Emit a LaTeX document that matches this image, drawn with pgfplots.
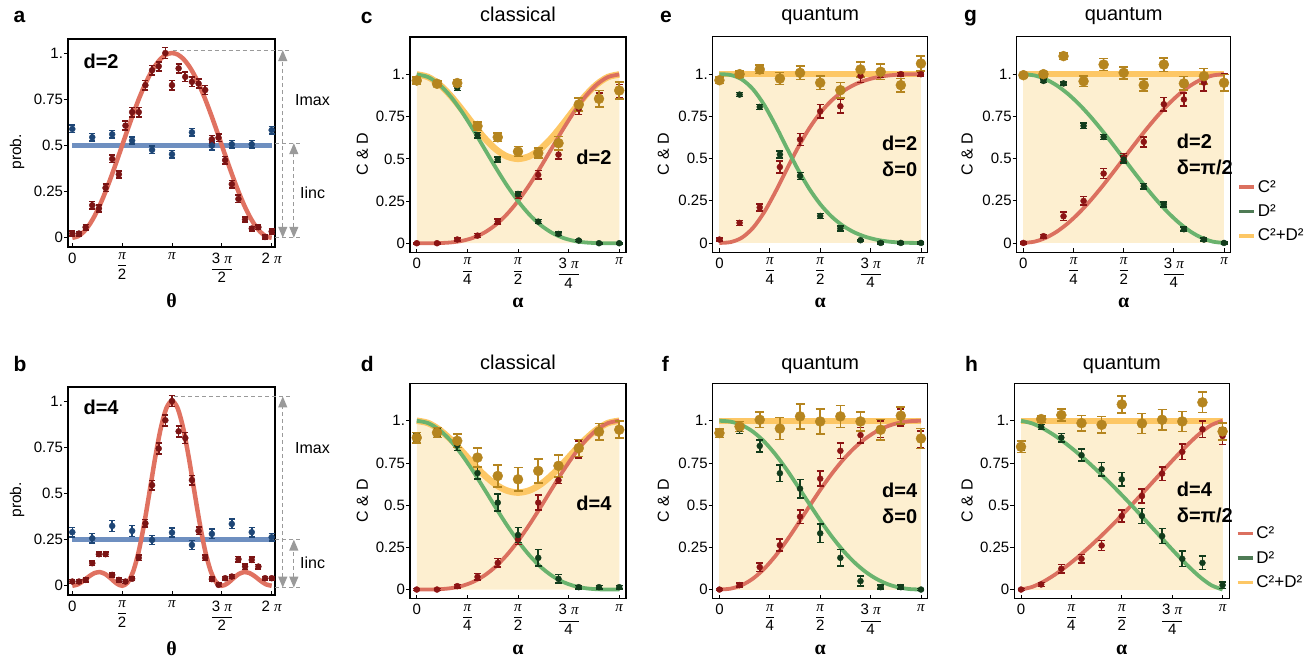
\documentclass[border=0pt]{standalone}
\usepackage{fontspec}
\setmainfont{Liberation Sans}
\newfontfamily\serif{Liberation Serif}
\usepackage{pgfplots}
\pgfplotsset{compat=1.18}
\usetikzlibrary{arrows.meta}

\definecolor{cream}{HTML}{FDEFD0}
\definecolor{sumc}{HTML}{FDC765}
\definecolor{cline}{HTML}{DB705F}
\definecolor{dline}{HTML}{6AB36E}
\definecolor{cdat}{HTML}{8C1414}
\definecolor{ddat}{HTML}{123C1C}
\definecolor{gdat}{HTML}{B5851F}
\definecolor{aline}{HTML}{E07261}
\definecolor{adat}{HTML}{7B1414}
\definecolor{bline}{HTML}{6E8FC0}
\definecolor{bdat}{HTML}{1E4676}
\definecolor{dleg}{HTML}{4F7B55}
\definecolor{agray}{HTML}{9A9A9A}

\newcommand{\PI}{{\serif\itshape π}}
\newcommand{\fr}[2]{$\displaystyle{\mbox{#1}\above 0.9pt\mbox{#2}}$}
\newcommand{\ftick}{\fontsize{15}{17}\selectfont}
\newcommand{\ftitle}{\fontsize{20}{24}\selectfont}
\newcommand{\fann}{\bfseries\fontsize{20}{26}\selectfont}
\newcommand{\flet}{\bfseries\fontsize{21}{24}\selectfont}

\tikzset{
 arr/.style={agray, line width=1.2pt, dash pattern=on 4pt off 3pt, {Triangle[width=9pt,length=11pt]}-{Triangle[width=9pt,length=11pt]}},
 dsh/.style={agray, line width=1.1pt, dash pattern=on 4pt off 3pt},
}

\pgfplotsset{
 base/.style={scale only axis, anchor=north west, clip=false,
   axis line style={line width=1.1pt, black},
   tick style={line width=0.8pt, black},
   xtick align=inside, ytick align=outside, major tick length=4pt, tick pos=left,
   tick label style={font=\ftick},
   yticklabel style={xshift=2.5pt}, xticklabel style={yshift=-2pt},
   ytick={0,0.25,0.5,0.75,1}, yticklabels={0,0.25,0.5,0.75,1.},
   every axis y label/.style={at={(axis description cs:-0.22,0.455)}, rotate=90, anchor=center, font=\fontsize{16}{18}\selectfont},
   every axis x label/.style={at={(axis description cs:0.5,-0.235)}, anchor=center, font=\fontsize{20}{22}\selectfont},
   every axis title/.style={at={(axis description cs:0.5,1.074)}, anchor=base, font=\ftitle},
 },
 alax/.style={base, width=215pt, height=215.5pt, xmin=-6, xmax=186, ymin=-0.055, ymax=1.222,
   xtick={0,45,90,135,180}, xticklabels={0,\fr{\PI}{4},\fr{\PI}{2},\fr{3 \PI}{4},\PI},
   xlabel={{\serif\bfseries α}}, ylabel={C \& D}},
 thax/.style={base, width=207pt, height=208pt, xmin=-7.8, xmax=366, ymin=-0.05, ymax=1.076,
   xtick={0,90,180,270,360}, xticklabels={0,\fr{\PI}{2},\PI,\fr{3 \PI}{2},2 \PI},
   xlabel={{\serif\bfseries θ}}, ylabel={prob.},
   every axis y label/.append style={at={(axis description cs:-0.246,0.458)}, font=\fontsize{15.5}{17}\selectfont},
   every axis x label/.append style={at={(axis description cs:0.5,-0.26)}}},
 dp/.style n args={3}{only marks, mark=*, mark size=#2, color=#1, mark options={solid, fill=#1, draw=#1},
   error bars/y dir=both, error bars/y explicit, error bars/error mark=-,
   error bars/error mark options={rotate=90, mark size=#3, line width=1.6pt, color=#1},
   error bars/error bar style={line width=1.6pt, color=#1}, forget plot},
 cc/.style={cline, line width=3.8pt, smooth, no markers, forget plot},
 dc/.style={dline, line width=3.8pt, smooth, no markers, forget plot},
 sc/.style={sumc, line width=6.5pt, smooth, no markers, forget plot},
 fl/.style={fill=cream, draw=none, forget plot},
 lg/.style={legend image code/.code={\draw[##1] (0pt,0pt) -- (15pt,0pt);},
   legend style={draw=none, fill=none, at={(1.03,0.035)}, anchor=south west, font=\fontsize{17}{19}\selectfont, row sep=7pt, inner sep=0pt},
   legend cell align=left},
}

\begin{document}
\begin{tikzpicture}
\path[use as bounding box] (0,0) rectangle (1315pt,-662pt);

% panel letters
\node[anchor=base west, font=\flet] at (10pt,-22.7pt) {a};
\node[anchor=base west, font=\flet] at (10pt,-371.7pt) {b};
\node[anchor=base west, font=\flet] at (357.3pt,-23pt) {c};
\node[anchor=base west, font=\flet] at (357.3pt,-371.7pt) {d};
\node[anchor=base west, font=\flet] at (656.7pt,-22.7pt) {e};
\node[anchor=base west, font=\flet] at (658.3pt,-371.7pt) {f};
\node[anchor=base west, font=\flet] at (960.7pt,-21.7pt) {g};
\node[anchor=base west, font=\flet] at (961.7pt,-371.7pt) {h};

% ===== a =====
\begin{axis}[thax, at={(68pt,-39pt)}]
\addplot[bline, line width=4.5pt, forget plot] coordinates {(0,0.5) (360,0.5)};
\addplot[aline, line width=4.5pt, smooth, no markers, forget plot] table[row sep=\\] {
0 0\\10 0.0076\\20 0.0302\\30 0.0670\\40 0.1170\\50 0.1786\\60 0.25\\70 0.3290\\80 0.4132\\90 0.5\\
100 0.5868\\110 0.6710\\120 0.75\\130 0.8214\\140 0.8830\\150 0.9330\\160 0.9698\\170 0.9924\\180 1\\
190 0.9924\\200 0.9698\\210 0.9330\\220 0.8830\\230 0.8214\\240 0.75\\250 0.6710\\260 0.5868\\270 0.5\\
280 0.4132\\290 0.3290\\300 0.25\\310 0.1786\\320 0.1170\\330 0.0670\\340 0.0302\\350 0.0076\\360 0\\};
\addplot[dp={adat}{3pt}{3pt}] table[x index=0, y index=1, y error index=2, row sep=\\] {
0 0.023 0.015\\12 0.023 0.012\\24 0.057 0.015\\36 0.176 0.02\\48 0.158 0.02\\60 0.27 0.02\\
72 0.427 0.02\\84 0.343 0.02\\96 0.607 0.025\\108 0.68 0.025\\120 0.68 0.025\\132 0.826 0.025\\
144 0.907 0.025\\156 0.928 0.025\\168 1.0 0.03\\180 0.826 0.025\\192 0.917 0.025\\204 0.871 0.025\\
216 0.844 0.025\\228 0.835 0.025\\240 0.80 0.025\\252 0.533 0.02\\264 0.542 0.02\\276 0.42 0.02\\
288 0.29 0.02\\300 0.21 0.02\\312 0.099 0.015\\324 0.05 0.012\\336 0.057 0.012\\348 0.004 0.01\\360 0.034 0.012\\};
\addplot[dp={bdat}{3pt}{3pt}] table[x index=0, y index=1, y error index=2, row sep=\\] {
0 0.589 0.02\\36 0.544 0.02\\72 0.56 0.02\\108 0.526 0.02\\144 0.476 0.02\\180 0.452 0.02\\
216 0.571 0.02\\252 0.499 0.025\\288 0.506 0.02\\324 0.506 0.02\\360 0.583 0.02\\};
\node[anchor=west, font=\fann] at (rel axis cs:0.058,0.894) {d=2};
\draw[dsh] (axis cs:181,1.016) -- (axis cs:393,1.016);
\draw[dsh] (axis cs:366,0.512) -- (axis cs:414,0.512);
\draw[dsh] (axis cs:366,0) -- (axis cs:414,0);
\draw[arr] (axis cs:380,0) -- (axis cs:380,1.016);
\draw[arr] (axis cs:400,0) -- (axis cs:400,0.512);
\node[anchor=west, font=\fontsize{16}{18}\selectfont] at (axis cs:396,0.746) {Imax};
\node[anchor=west, font=\fontsize{16}{18}\selectfont] at (axis cs:405,0.243) {Iinc};
\end{axis}

% ===== b =====
\begin{axis}[thax, at={(68pt,-387pt)}]
\addplot[bline, line width=4.5pt, forget plot] coordinates {(0,0.25) (360,0.25)};
\addplot[aline, line width=4.5pt, smooth, no markers, forget plot] table[row sep=\\] {
0 0\\10 0.0074\\20 0.0267\\30 0.0502\\40 0.0687\\50 0.0738\\60 0.0625\\70 0.0385\\80 0.0125\\90 0\\
100 0.0177\\110 0.0785\\120 0.1875\\130 0.3394\\140 0.5181\\150 0.6998\\160 0.8563\\170 0.9624\\180 1\\
190 0.9624\\200 0.8563\\210 0.6998\\220 0.5181\\230 0.3394\\240 0.1875\\250 0.0785\\260 0.0177\\270 0\\
280 0.0125\\290 0.0385\\300 0.0625\\310 0.0738\\320 0.0687\\330 0.0502\\340 0.0267\\350 0.0074\\360 0\\};
\addplot[dp={adat}{3pt}{3pt}] table[x index=0, y index=1, y error index=2, row sep=\\] {
0 0.023 0.01\\12 0.023 0.01\\24 0.032 0.01\\36 0.122 0.012\\48 0.171 0.012\\60 0.171 0.012\\
72 0.059 0.01\\84 0.032 0.01\\96 0.023 0.01\\108 0.038 0.01\\120 0.151 0.015\\132 0.338 0.02\\
144 0.545 0.025\\156 0.743 0.03\\168 0.896 0.03\\180 1.0 0.03\\192 0.836 0.03\\204 0.80 0.03\\
216 0.572 0.025\\228 0.297 0.02\\240 0.151 0.015\\252 0.036 0.01\\264 0.005 0.01\\276 0.041 0.01\\
288 0.05 0.01\\300 0.144 0.015\\312 0.104 0.015\\324 0.14 0.015\\336 0.104 0.012\\348 0.041 0.01\\360 0.041 0.01\\};
\addplot[dp={bdat}{3pt}{3pt}] table[x index=0, y index=1, y error index=2, row sep=\\] {
0 0.29 0.025\\36 0.257 0.025\\72 0.324 0.03\\108 0.297 0.03\\144 0.248 0.025\\180 0.288 0.025\\
216 0.221 0.025\\252 0.281 0.025\\288 0.335 0.025\\324 0.29 0.025\\360 0.263 0.02\\};
\node[anchor=west, font=\fann] at (rel axis cs:0.058,0.904) {d=4};
\draw[dsh] (axis cs:184,1.025) -- (axis cs:393,1.025);
\draw[dsh] (axis cs:366,0.25) -- (axis cs:414,0.25);
\draw[dsh] (axis cs:366,-0.01) -- (axis cs:414,-0.01);
\draw[arr] (axis cs:380,-0.01) -- (axis cs:380,1.025);
\draw[arr] (axis cs:400,-0.01) -- (axis cs:400,0.25);
\node[anchor=west, font=\fontsize{16}{18}\selectfont] at (axis cs:396,0.743) {Imax};
\node[anchor=west, font=\fontsize{16}{18}\selectfont] at (axis cs:405,0.124) {Iinc};
\end{axis}

% ===== c =====
\begin{axis}[alax, at={(410pt,-37pt)}, width=216pt, title={classical}]
\addplot[fl] table[row sep=\\] {
0 1\\10 0.9850\\20 0.9414\\30 0.8750\\40 0.7934\\50 0.7066\\60 0.625\\70 0.5584\\80 0.5150\\90 0.5\\
100 0.5150\\110 0.5584\\120 0.625\\130 0.7066\\140 0.7934\\150 0.8750\\160 0.9414\\170 0.9850\\180 1\\} \closedcycle;
\addplot[sc] table[row sep=\\] {
0 1\\10 0.9850\\20 0.9414\\30 0.8750\\40 0.7934\\50 0.7066\\60 0.625\\70 0.5584\\80 0.5150\\90 0.5\\
100 0.5150\\110 0.5584\\120 0.625\\130 0.7066\\140 0.7934\\150 0.8750\\160 0.9414\\170 0.9850\\180 1\\};
\addplot[cc] table[row sep=\\] {
0 0\\10 0.0001\\20 0.0009\\30 0.0045\\40 0.0137\\50 0.0319\\60 0.0625\\70 0.1082\\80 0.1707\\90 0.25\\
100 0.3443\\110 0.4502\\120 0.5625\\130 0.6747\\140 0.7797\\150 0.8705\\160 0.9405\\170 0.9849\\180 1\\};
\addplot[dc] table[row sep=\\] {
0 1\\10 0.9849\\20 0.9405\\30 0.8705\\40 0.7797\\50 0.6747\\60 0.5625\\70 0.4502\\80 0.3443\\90 0.25\\
100 0.1707\\110 0.1082\\120 0.0625\\130 0.0319\\140 0.0137\\150 0.0045\\160 0.0009\\170 0.0001\\180 0\\};
\addplot[dp={cdat}{3pt}{3.5pt}] table[x index=0, y index=1, y error index=2, row sep=\\] {
0 0 0.005\\18 0 0.005\\36 0.022 0.01\\54 0.045 0.012\\72 0.128 0.015\\90 0.285 0.02\\
108 0.405 0.025\\126 0.525 0.025\\144 0.797 0.035\\162 0.85 0.04\\180 0.90 0.04\\};
\addplot[dp={ddat}{3pt}{3.5pt}] table[x index=0, y index=1, y error index=2, row sep=\\] {
0 0.96 0.01\\18 0.94 0.01\\36 0.921 0.015\\54 0.64 0.015\\72 0.496 0.015\\90 0.292 0.015\\
108 0.128 0.012\\126 0.055 0.01\\144 0.016 0.006\\162 0.0 0.005\\180 0 0.005\\};
\addplot[dp={gdat}{5pt}{4.5pt}] table[x index=0, y index=1, y error index=2, row sep=\\] {
0 0.964 0.02\\18 0.945 0.015\\36 0.949 0.02\\54 0.694 0.025\\72 0.628 0.025\\90 0.543 0.03\\
108 0.534 0.03\\126 0.593 0.04\\144 0.822 0.04\\162 0.856 0.05\\180 0.905 0.05\\};
\node[anchor=east, font=\fann] at (rel axis cs:0.949,0.442) {d=2};
\end{axis}

% ===== d =====
\begin{axis}[alax, at={(410pt,-383.3pt)}, width=216pt, title={classical},
  every axis title/.append style={at={(axis description cs:0.5,1.065)}}]
\addplot[fl] table[row sep=\\] {
0 1\\10 0.9866\\20 0.9480\\30 0.8905\\40 0.8204\\50 0.7468\\60 0.6783\\70 0.6228\\80 0.5868\\90 0.5744\\
100 0.5868\\110 0.6228\\120 0.6783\\130 0.7468\\140 0.8204\\150 0.8905\\160 0.9480\\170 0.9866\\180 1\\} \closedcycle;
\addplot[sc] table[row sep=\\] {
0 1\\10 0.9866\\20 0.9480\\30 0.8905\\40 0.8204\\50 0.7468\\60 0.6783\\70 0.6228\\80 0.5868\\90 0.5744\\
100 0.5868\\110 0.6228\\120 0.6783\\130 0.7468\\140 0.8204\\150 0.8905\\160 0.9480\\170 0.9866\\180 1\\};
\addplot[cc] table[row sep=\\] {
0 0\\10 0.0002\\20 0.0018\\30 0.0077\\40 0.0210\\50 0.0450\\60 0.0825\\70 0.1352\\80 0.2038\\90 0.2872\\
100 0.3830\\110 0.4876\\120 0.5958\\130 0.7018\\140 0.7994\\150 0.8828\\160 0.9462\\170 0.9864\\180 1\\};
\addplot[dc] table[row sep=\\] {
0 1\\10 0.9864\\20 0.9462\\30 0.8828\\40 0.7994\\50 0.7018\\60 0.5958\\70 0.4876\\80 0.3830\\90 0.2872\\
100 0.2038\\110 0.1352\\120 0.0825\\130 0.0450\\140 0.0210\\150 0.0077\\160 0.0018\\170 0.0002\\180 0\\};
\addplot[dp={cdat}{3pt}{3.5pt}] table[x index=0, y index=1, y error index=2, row sep=\\] {
0 0 0.005\\18 0 0.005\\36 0.02 0.01\\54 0.075 0.02\\72 0.158 0.025\\90 0.297 0.03\\
108 0.515 0.045\\126 0.648 0.02\\144 0.83 0.05\\162 0.935 0.05\\180 0.945 0.05\\};
\addplot[dp={ddat}{3pt}{3.5pt}] table[x index=0, y index=1, y error index=2, row sep=\\] {
0 0.90 0.02\\18 0.93 0.02\\36 0.855 0.03\\54 0.69 0.035\\72 0.515 0.05\\90 0.323 0.045\\
108 0.188 0.05\\126 0.063 0.025\\144 0.014 0.01\\162 0.014 0.01\\180 0.014 0.01\\};
\addplot[dp={gdat}{5pt}{4.5pt}] table[x index=0, y index=1, y error index=2, row sep=\\] {
0 0.90 0.03\\18 0.93 0.03\\36 0.881 0.04\\54 0.782 0.055\\72 0.673 0.065\\90 0.653 0.07\\
108 0.703 0.07\\126 0.733 0.065\\144 0.838 0.05\\162 0.935 0.05\\180 0.947 0.05\\};
\node[anchor=east, font=\fann] at (rel axis cs:0.949,0.441) {d=4};
\end{axis}

% ===== e =====
\begin{axis}[alax, at={(712.7pt,-36.7pt)}, title={quantum},
  every axis y label/.append style={at={(axis description cs:-0.23,0.455)}}]
\addplot[fl] coordinates {(0,1) (180,1)} \closedcycle;
\addplot[sc] coordinates {(0,1) (180,1)};
\addplot[cc] table[row sep=\\] {
0 0\\10 0.0049\\20 0.0310\\30 0.0894\\40 0.1825\\50 0.3025\\60 0.4346\\70 0.5631\\80 0.6767\\90 0.7701\\
100 0.8427\\110 0.8969\\120 0.9359\\130 0.9628\\140 0.9805\\150 0.9913\\160 0.9972\\170 0.9996\\180 1\\};
\addplot[dc] table[row sep=\\] {
0 1\\10 0.9951\\20 0.9690\\30 0.9106\\40 0.8175\\50 0.6975\\60 0.5654\\70 0.4369\\80 0.3233\\90 0.2299\\
100 0.1573\\110 0.1031\\120 0.0641\\130 0.0372\\140 0.0195\\150 0.0087\\160 0.0028\\170 0.0004\\180 0\\};
\addplot[dp={cdat}{3pt}{3.5pt}] table[x index=0, y index=1, y error index=2, row sep=\\] {
0 0.02 0.01\\18 0.119 0.015\\36 0.21 0.02\\54 0.45 0.035\\72 0.613 0.035\\90 0.78 0.04\\
108 0.81 0.04\\126 0.99 0.04\\144 1.0 0.02\\162 1.0 0.01\\180 1.0 0.01\\};
\addplot[dp={ddat}{3pt}{3.5pt}] table[x index=0, y index=1, y error index=2, row sep=\\] {
0 0.96 0.01\\18 0.879 0.012\\36 0.806 0.015\\54 0.524 0.02\\72 0.397 0.02\\90 0.16 0.015\\
108 0.085 0.015\\126 0.016 0.005\\144 0 0.005\\162 0 0.005\\180 0 0.005\\};
\addplot[dp={gdat}{5pt}{4.5pt}] table[x index=0, y index=1, y error index=2, row sep=\\] {
0 0.964 0.02\\18 1.0 0.02\\36 1.028 0.025\\54 0.974 0.035\\72 1.008 0.04\\90 0.949 0.04\\
108 0.905 0.045\\126 1.028 0.045\\144 1.014 0.045\\162 0.935 0.04\\180 1.063 0.045\\};
\node[anchor=west, align=left, font=\fann] at (rel axis cs:0.772,0.445) {d=2\\δ=0};
\end{axis}

% ===== f =====
\begin{axis}[alax, at={(712.7pt,-383.3pt)}, title={quantum},
  every axis title/.append style={at={(axis description cs:0.5,1.065)}},
  every axis y label/.append style={at={(axis description cs:-0.23,0.455)}}]
\addplot[fl] coordinates {(0,1) (180,1)} \closedcycle;
\addplot[sc] coordinates {(0,1) (180,1)};
\addplot[cc] table[row sep=\\] {
0 0\\10 0.0053\\20 0.0259\\30 0.0650\\40 0.1233\\50 0.1992\\60 0.2890\\70 0.3878\\80 0.4899\\90 0.5898\\
100 0.6828\\110 0.7655\\120 0.8357\\130 0.8926\\140 0.9363\\150 0.9675\\160 0.9873\\170 0.9974\\180 1\\};
\addplot[dc] table[row sep=\\] {
0 1\\10 0.9947\\20 0.9741\\30 0.9350\\40 0.8767\\50 0.8008\\60 0.7110\\70 0.6122\\80 0.5101\\90 0.4102\\
100 0.3172\\110 0.2345\\120 0.1643\\130 0.1074\\140 0.0637\\150 0.0325\\160 0.0127\\170 0.0026\\180 0\\};
\addplot[dp={cdat}{3pt}{3.5pt}] table[x index=0, y index=1, y error index=2, row sep=\\] {
0 0 0.005\\18 0.026 0.012\\36 0.133 0.025\\54 0.263 0.035\\72 0.432 0.04\\90 0.657 0.045\\
108 0.822 0.045\\126 0.915 0.045\\144 0.95 0.05\\162 1.02 0.05\\180 0.89 0.05\\};
\addplot[dp={ddat}{3pt}{3.5pt}] table[x index=0, y index=1, y error index=2, row sep=\\] {
0 0.927 0.02\\18 0.95 0.025\\36 0.851 0.035\\54 0.689 0.05\\72 0.598 0.055\\90 0.333 0.055\\
108 0.188 0.05\\126 0.05 0.03\\144 0.014 0.012\\162 0.014 0.012\\180 0 0.005\\};
\addplot[dp={gdat}{5pt}{4.5pt}] table[x index=0, y index=1, y error index=2, row sep=\\] {
0 0.927 0.025\\18 0.966 0.03\\36 1.006 0.045\\54 0.954 0.065\\72 1.026 0.075\\90 0.996 0.075\\
108 1.026 0.065\\126 0.996 0.055\\144 0.947 0.06\\162 1.03 0.05\\180 0.895 0.06\\};
\node[anchor=west, align=left, font=\fann] at (rel axis cs:0.772,0.443) {d=4\\δ=0};
\end{axis}

% ===== g =====
\begin{axis}[alax, lg, at={(1016.7pt,-36.7pt)}, width=214pt, title={quantum},
  every axis y label/.append style={at={(axis description cs:-0.232,0.455)}}]
\addplot[fl] coordinates {(0,1) (180,1)} \closedcycle;
\addplot[sc] coordinates {(0,1) (180,1)};
\addplot[cc] table[row sep=\\] {
0 0\\10 0.0076\\20 0.0302\\30 0.0670\\40 0.1170\\50 0.1786\\60 0.25\\70 0.3290\\80 0.4132\\90 0.5\\
100 0.5868\\110 0.6710\\120 0.75\\130 0.8214\\140 0.8830\\150 0.9330\\160 0.9698\\170 0.9924\\180 1\\};
\addplot[dc] table[row sep=\\] {
0 1\\10 0.9924\\20 0.9698\\30 0.9330\\40 0.8830\\50 0.8214\\60 0.75\\70 0.6710\\80 0.5868\\90 0.5\\
100 0.4132\\110 0.3290\\120 0.25\\130 0.1786\\140 0.1170\\150 0.0670\\160 0.0302\\170 0.0076\\180 0\\};
\addplot[dp={cdat}{3pt}{3.5pt}] table[x index=0, y index=1, y error index=2, row sep=\\] {
0 0 0.005\\18 0.04 0.01\\36 0.158 0.025\\54 0.249 0.025\\72 0.411 0.03\\90 0.506 0.025\\
108 0.599 0.03\\126 0.822 0.04\\144 0.85 0.04\\162 0.95 0.05\\180 0.95 0.05\\};
\addplot[dp={ddat}{3pt}{3.5pt}] table[x index=0, y index=1, y error index=2, row sep=\\] {
0 1.0 0.005\\18 0.96 0.01\\36 0.945 0.01\\54 0.694 0.015\\72 0.628 0.015\\90 0.494 0.02\\
108 0.336 0.015\\126 0.229 0.015\\144 0.081 0.012\\162 0.02 0.008\\180 0 0.005\\};
\addplot[dp={gdat}{5pt}{4.5pt}] table[x index=0, y index=1, y error index=2, row sep=\\] {
0 0.994 0.01\\18 1.0 0.015\\36 1.107 0.02\\54 0.958 0.03\\72 1.057 0.035\\90 1.008 0.035\\
108 0.935 0.035\\126 1.057 0.04\\144 0.945 0.04\\162 0.988 0.045\\180 0.949 0.05\\};
\node[anchor=west, align=left, font=\fann] at (rel axis cs:0.732,0.452) {d=2\\δ=π/2};
\addlegendimage{cline, line width=3.5pt}\addlegendentry{C²}
\addlegendimage{dleg, line width=3.5pt}\addlegendentry{D²}
\addlegendimage{sumc, line width=3.5pt}\addlegendentry{C²+D²}
\end{axis}

% ===== h =====
\begin{axis}[alax, lg, at={(1014.3pt,-383.3pt)}, title={quantum},
  every axis title/.append style={at={(axis description cs:0.5,1.065)}},
  every axis y label/.append style={at={(axis description cs:-0.22,0.455)}}]
\addplot[fl] coordinates {(0,1) (180,1)} \closedcycle;
\addplot[sc] coordinates {(0,1) (180,1)};
\addplot[cc] table[row sep=\\] {
0 0\\10 0.0157\\20 0.0466\\30 0.0872\\40 0.1349\\50 0.1882\\60 0.2460\\70 0.3076\\80 0.3724\\90 0.4400\\
100 0.5098\\110 0.5815\\120 0.6542\\130 0.7270\\140 0.7983\\150 0.8660\\160 0.9266\\170 0.9748\\180 1\\};
\addplot[dc] table[row sep=\\] {
0 1\\10 0.9843\\20 0.9534\\30 0.9128\\40 0.8651\\50 0.8118\\60 0.7540\\70 0.6924\\80 0.6276\\90 0.5600\\
100 0.4902\\110 0.4185\\120 0.3458\\130 0.2730\\140 0.2017\\150 0.1340\\160 0.0734\\170 0.0252\\180 0\\};
\addplot[dp={cdat}{3pt}{3.5pt}] table[x index=0, y index=1, y error index=2, row sep=\\] {
0 0 0.005\\18 0.03 0.012\\36 0.123 0.025\\54 0.182 0.025\\72 0.261 0.03\\90 0.436 0.035\\
108 0.554 0.04\\126 0.687 0.04\\144 0.816 0.045\\162 0.95 0.05\\180 0.91 0.05\\};
\addplot[dp={ddat}{3pt}{3.5pt}] table[x index=0, y index=1, y error index=2, row sep=\\] {
0 0.846 0.02\\18 0.964 0.015\\36 0.90 0.025\\54 0.796 0.035\\72 0.713 0.04\\90 0.653 0.04\\
108 0.436 0.045\\126 0.317 0.045\\144 0.182 0.045\\162 0.158 0.04\\180 0.026 0.02\\};
\addplot[dp={gdat}{5pt}{4.5pt}] table[x index=0, y index=1, y error index=2, row sep=\\] {
0 0.846 0.035\\18 1.01 0.02\\36 1.034 0.035\\54 0.986 0.045\\72 0.976 0.05\\90 1.097 0.05\\
108 0.984 0.06\\126 1.006 0.06\\144 0.996 0.06\\162 1.109 0.06\\180 0.937 0.05\\};
\node[anchor=west, align=left, font=\fann] at (rel axis cs:0.74,0.449) {d=4\\δ=π/2};
\addlegendimage{cline, line width=3.5pt}\addlegendentry{C²}
\addlegendimage{dleg, line width=3.5pt}\addlegendentry{D²}
\addlegendimage{sumc, line width=3.5pt}\addlegendentry{C²+D²}
\end{axis}
\end{tikzpicture}
\end{document}
